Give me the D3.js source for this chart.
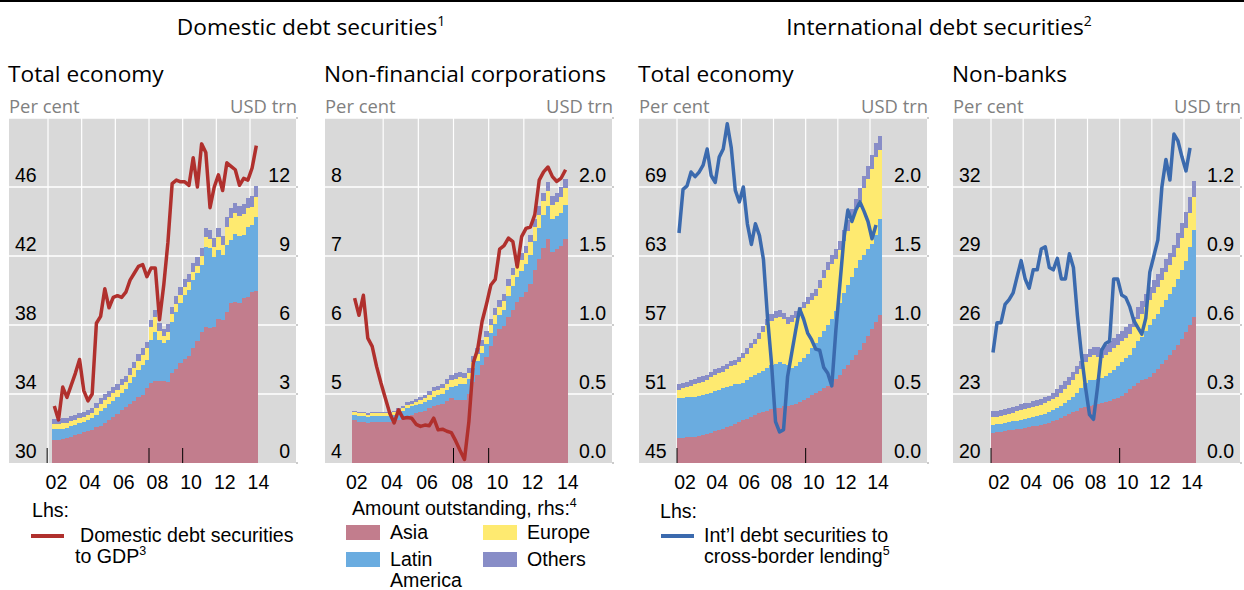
<!DOCTYPE html>
<html>
<head>
<meta charset="utf-8">
<script src="https://cdn.jsdelivr.net/npm/d3@7"></script>
<style>
  body { margin: 0; background: #fff; }
  svg text { font-family: "Liberation Sans", Arial, sans-serif; fill: #000; }
  svg text.ttl { font-family: "Open Sans", sans-serif; }
  svg text.unit { font-family: "Open Sans", sans-serif; fill: #808080; }
</style>
</head>
<body>
<script>
// ---- data (quarterly) ----
const yearTicks = [2002, 2004, 2006, 2008, 2010, 2012, 2014];
const yearLabels = ["02", "04", "06", "08", "10", "12", "14"];

// Domestic debt securities, total economy (from 2002 Q2)
const domTotalRatio = [33.3,32.5,34.4,33.8,34.5,35.2,36.0,34.2,33.6,34.0, 38.1,38.5,40.1,39.0,39.6,39.7,39.6,39.9,40.6,41.0,
  41.4,41.5,40.8,41.3,41.3,38.3,40.3,42.8,46.2,46.4, 46.3,46.3,46.1,47.7,46.0,48.5,48.0,44.8,46.0,46.7,
  45.8,47.4,47.2,47.0,46.1,46.5,46.4,47.1,48.4];
const domTotalAsia = [1.0,1.02,1.04,1.07,1.15,1.22,1.28,1.33,1.40,1.45, 1.58,1.62,1.75,1.85,1.98,2.15,2.3,2.42,2.55,2.7,
  2.85,2.95,3.25,3.5,3.55,3.58,3.58,3.54,3.9,4.08, 4.34,4.52,4.65,5.0,5.3,5.71,5.93,5.86,5.9,6.26,
  6.2,6.58,6.96,7.0,6.97,7.17,7.23,7.45,7.48];
const domTotalLatam = [0.46,0.46,0.46,0.46,0.45,0.44,0.44,0.45,0.45,0.50, 0.52,0.63,0.65,0.70,0.72,0.70,0.75,0.78,0.95,1.05,
  1.20,1.30,1.25,1.85,2.16,1.77,1.62,1.81,2.24,2.50, 2.60,2.78,2.87,2.96,2.96,2.89,3.45,3.47,3.07,3.00,
  2.84,2.90,2.74,2.96,2.90,2.74,3.02,2.90,3.20];
const domTotalEurope = [0.22,0.22,0.22,0.22,0.22,0.22,0.22,0.22,0.22,0.24, 0.28,0.32,0.33,0.33,0.33,0.33,0.32,0.32,0.34,0.36,
  0.40,0.44,0.48,0.55,0.62,0.40,0.32,0.36,0.32,0.32, 0.36,0.37,0.36,0.36,0.32,0.38,0.45,0.40,0.44,0.55,
  0.45,0.78,0.95,0.90,0.87,0.90,0.82,0.80,0.90];
const domTotalOthers = [0.22,0.22,0.22,0.22,0.22,0.22,0.22,0.22,0.22,0.22, 0.24,0.25,0.25,0.26,0.26,0.27,0.27,0.28,0.28,0.29,
  0.29,0.30,0.30,0.32,0.32,0.32,0.32,0.33,0.33,0.34, 0.34,0.35,0.35,0.36,0.36,0.37,0.38,0.38,0.39,0.40,
  0.40,0.42,0.42,0.43,0.44,0.44,0.45,0.46,0.46];

// Domestic debt securities, non-financial corporations (from 2002 Q2)
const domNfcRatio = [6.39,6.14,6.43,5.81,5.69,5.40,5.16,4.94,4.72,4.58, 4.77,4.65,4.66,4.65,4.56,4.53,4.55,4.54,4.65,4.48,
  4.49,4.46,4.44,4.32,4.18,4.05,4.60,5.45,5.65,6.05, 6.30,6.58,6.66,7.10,7.15,7.26,7.21,6.84,7.28,7.40,
  7.42,7.60,8.10,8.22,8.29,8.15,8.08,8.13,8.25];
const domNfcAsia = [0.31,0.30,0.30,0.29,0.30,0.30,0.30,0.30,0.30,0.30, 0.31,0.32,0.34,0.35,0.36,0.37,0.38,0.40,0.41,0.42,
  0.43,0.45,0.47,0.46,0.46,0.46,0.50,0.59,0.64,0.71, 0.77,0.85,0.92,0.97,0.99,1.06,1.11,1.17,1.20,1.24,
  1.30,1.40,1.48,1.56,1.62,1.53,1.55,1.57,1.62];
const domNfcLatam = [0.04,0.04,0.04,0.04,0.04,0.04,0.04,0.04,0.04,0.05, 0.05,0.06,0.06,0.06,0.06,0.06,0.06,0.06,0.07,0.07,
  0.07,0.08,0.08,0.10,0.11,0.11,0.11,0.10,0.10,0.09, 0.09,0.09,0.09,0.10,0.12,0.15,0.17,0.18,0.19,0.20,
  0.21,0.21,0.22,0.24,0.24,0.24,0.24,0.24,0.25];
const domNfcEurope = [0.02,0.02,0.02,0.02,0.02,0.02,0.02,0.02,0.02,0.02, 0.02,0.02,0.02,0.02,0.025,0.03,0.03,0.035,0.04,0.04,
  0.04,0.045,0.05,0.05,0.05,0.045,0.04,0.045,0.05,0.05, 0.055,0.06,0.06,0.06,0.065,0.07,0.08,0.08,0.08,0.08,
  0.09,0.10,0.10,0.10,0.11,0.10,0.10,0.12,0.12];
const domNfcOthers = [0.01,0.01,0.01,0.01,0.01,0.01,0.01,0.01,0.01,0.01, 0.015,0.015,0.02,0.02,0.02,0.02,0.02,0.025,0.03,0.03,
  0.03,0.035,0.04,0.04,0.04,0.04,0.04,0.04,0.04,0.04, 0.045,0.045,0.05,0.05,0.05,0.05,0.05,0.05,0.05,0.055,
  0.055,0.06,0.06,0.06,0.065,0.065,0.065,0.07,0.07];

// International debt securities, total economy (from 2002 Q1)
const intTotalRatio = [65.0,68.8,69.1,70.3,69.9,70.3,70.9,72.3,70.0,69.4, 71.6,72.3,74.5,72.4,68.7,67.7,69.0,65.8,64.0,65.8,
  64.8,62.7,57.7,53.7,48.6,47.7,47.9,52.5,54.5,56.5, 58.4,57.5,56.3,55.7,54.9,54.8,53.3,52.8,51.7,56.5,
  60.5,64.5,67.0,66.0,67.0,67.7,66.9,66.0,64.5,65.7];
const intTotalAsia = [0.18,0.18,0.185,0.19,0.19,0.195,0.20,0.21,0.22,0.23, 0.24,0.25,0.26,0.27,0.28,0.30,0.31,0.32,0.33,0.35,
  0.36,0.37,0.38,0.39,0.40,0.40,0.41,0.41,0.42,0.43, 0.44,0.46,0.47,0.49,0.51,0.52,0.54,0.56,0.58,0.61,
  0.64,0.68,0.71,0.75,0.78,0.82,0.87,0.92,0.97,1.02, 1.07];
const intTotalLatam = [0.29,0.29,0.29,0.29,0.29,0.29,0.29,0.29,0.29,0.29, 0.29,0.29,0.29,0.29,0.29,0.275,0.27,0.28,0.29,0.29,
  0.29,0.30,0.31,0.32,0.32,0.33,0.31,0.30,0.27,0.27, 0.29,0.30,0.32,0.34,0.36,0.39,0.42,0.44,0.46,0.49,
  0.52,0.55,0.58,0.60,0.63,0.65,0.64,0.63,0.62,0.63, 0.70];
const intTotalEurope = [0.06,0.07,0.075,0.08,0.09,0.095,0.10,0.10,0.11,0.12, 0.12,0.12,0.13,0.14,0.14,0.155,0.18,0.19,0.21,0.22,
  0.25,0.28,0.31,0.32,0.33,0.33,0.32,0.30,0.33,0.35, 0.35,0.36,0.36,0.35,0.34,0.36,0.38,0.40,0.40,0.38,
  0.38,0.38,0.39,0.41,0.42,0.43,0.48,0.51,0.54,0.57, 0.50];
const intTotalOthers = [0.04,0.04,0.04,0.04,0.04,0.04,0.04,0.04,0.04,0.04, 0.04,0.04,0.04,0.04,0.04,0.04,0.04,0.04,0.04,0.04,
  0.04,0.045,0.045,0.05,0.05,0.05,0.05,0.05,0.05,0.05, 0.05,0.05,0.05,0.05,0.05,0.055,0.06,0.06,0.065,0.07,
  0.07,0.075,0.08,0.08,0.085,0.09,0.09,0.095,0.10,0.10, 0.10];

// International debt securities, non-banks (from 2002 Q1)
const intNonbankRatio = [24.8,26.1,26.1,26.9,27.1,27.4,28.1,28.8,28.0,27.6, 28.4,28.4,29.3,29.4,28.5,28.4,28.9,28.0,28.0,29.1,
  28.5,26.4,24.7,23.3,22.1,21.9,23.3,24.9,25.2,25.3, 28.0,28.0,27.3,27.2,26.8,26.2,25.9,25.6,26.3,28.3,
  29.0,29.7,32.0,33.2,32.3,34.3,34.0,33.3,32.7,33.7];
const intNonbankAsia = [0.13,0.133,0.136,0.139,0.142,0.145,0.148,0.15,0.153,0.156, 0.159,0.162,0.165,0.17,0.176,0.181,0.187,0.195,0.203,0.211,
  0.22,0.228,0.237,0.245,0.25,0.253,0.257,0.26,0.265,0.27, 0.277,0.284,0.29,0.305,0.32,0.335,0.35,0.36,0.366,0.373,
  0.39,0.41,0.43,0.45,0.47,0.49,0.515,0.54,0.57,0.60, 0.636];
const intNonbankLatam = [0.035,0.035,0.035,0.035,0.035,0.036,0.036,0.037,0.038,0.039, 0.041,0.042,0.044,0.045,0.046,0.049,0.051,0.055,0.059,0.064,
  0.068,0.077,0.088,0.105,0.11,0.109,0.108,0.108,0.115,0.12, 0.128,0.136,0.15,0.15,0.15,0.165,0.18,0.19,0.209,0.227,
  0.235,0.24,0.25,0.26,0.265,0.275,0.285,0.30,0.31,0.34, 0.377];
const intNonbankEurope = [0.034,0.034,0.035,0.036,0.037,0.038,0.04,0.043,0.043,0.043, 0.043,0.044,0.043,0.045,0.046,0.048,0.05,0.055,0.06,0.065,
  0.072,0.08,0.085,0.09,0.10,0.108,0.095,0.087,0.09,0.094, 0.095,0.095,0.09,0.09,0.09,0.09,0.095,0.10,0.105,0.11,
  0.115,0.115,0.115,0.12,0.125,0.13,0.135,0.14,0.14,0.145, 0.145];
const intNonbankOthers = [0.025,0.025,0.025,0.025,0.025,0.025,0.025,0.025,0.025,0.025, 0.025,0.025,0.025,0.025,0.025,0.025,0.035,0.035,0.035,0.035,
  0.035,0.035,0.035,0.035,0.035,0.035,0.045,0.045,0.045,0.045, 0.045,0.045,0.045,0.045,0.045,0.045,0.055,0.055,0.055,0.055,
  0.055,0.055,0.055,0.055,0.055,0.055,0.065,0.065,0.07,0.07, 0.07];

// ---- drawing ----
const W = 1244, H = 590;
const plotTop = 118, plotBottom = 463;
const red = "#b0302d", blue = "#3b6aae";
const keys = ["asia", "latam", "europe", "others"];
const colors = { asia: "#c27d8d", latam: "#6aace0", europe: "#feea70", others: "#888dc7" };

const svg = d3.select("body").append("svg")
  .attr("width", W).attr("height", H);

svg.append("rect").attr("x", 0).attr("y", 0).attr("width", W).attr("height", 2).attr("fill", "#000");

const groupTitles = [
  { text: "Domestic debt securities", sup: "1", cx: 311 },
  { text: "International debt securities", sup: "2", cx: 939 }
];
groupTitles.forEach(function(t) {
  const el = svg.append("text").attr("class", "ttl")
    .attr("x", t.cx).attr("y", 35).attr("text-anchor", "middle")
    .style("font-size", "22.7px").text(t.text);
  el.append("tspan").attr("dy", -9).style("font-size", "14px").text(t.sup);
});

const panels = [
  { title: "Total economy", left: 9, right: 296, x02: 48, x14: 250, start: 2002.25,
    lhs: [30, 50], lhsTicks: [30, 34, 38, 42, 46], rhs: [0, 15], rhsTicks: [0, 3, 6, 9, 12], rhsFmt: d3.format("d"),
    ratio: domTotalRatio, lineColor: red,
    bars: [domTotalAsia, domTotalLatam, domTotalEurope, domTotalOthers],
    gridYears: yearTicks, markYears: [2001.95, 2008, 2010] },
  { title: "Non-financial corporations", left: 325, right: 612, x02: 348, x14: 559, start: 2002.25,
    lhs: [4, 9], lhsTicks: [4, 5, 6, 7, 8], rhs: [0, 2.5], rhsTicks: [0, 0.5, 1, 1.5, 2], rhsFmt: d3.format(".1f"),
    ratio: domNfcRatio, lineColor: red,
    bars: [domNfcAsia, domNfcLatam, domNfcEurope, domNfcOthers],
    gridYears: yearTicks.slice(1), markYears: [2008, 2010] },
  { title: "Total economy", left: 639, right: 927, x02: 677, x14: 870, start: 2002,
    lhs: [45, 75], lhsTicks: [45, 51, 57, 63, 69], rhs: [0, 2.5], rhsTicks: [0, 0.5, 1, 1.5, 2], rhsFmt: d3.format(".1f"),
    ratio: intTotalRatio, lineColor: blue,
    bars: [intTotalAsia, intTotalLatam, intTotalEurope, intTotalOthers],
    gridYears: yearTicks, markYears: [2002, 2010] },
  { title: "Non-banks", left: 953, right: 1240, x02: 991, x14: 1184, start: 2002,
    lhs: [20, 35], lhsTicks: [20, 23, 26, 29, 32], rhs: [0, 1.5], rhsTicks: [0, 0.3, 0.6, 0.9, 1.2], rhsFmt: d3.format(".1f"),
    ratio: intNonbankRatio, lineColor: blue,
    bars: [intNonbankAsia, intNonbankLatam, intNonbankEurope, intNonbankOthers],
    gridYears: yearTicks, markYears: [2002, 2010] }
];

const drawPanel = function(p) {
  const g = svg.append("g");
  const x = d3.scaleLinear().domain([2002, 2014]).range([p.x02, p.x14]);
  const yL = d3.scaleLinear().domain(p.lhs).range([plotBottom, plotTop]);
  const yR = d3.scaleLinear().domain(p.rhs).range([plotBottom, plotTop]);

  g.append("text").attr("class", "ttl").attr("x", p.left - 1).attr("y", 82)
    .style("font-size", "22.7px").text(p.title);
  g.append("text").attr("class", "unit").attr("x", p.left).attr("y", 113)
    .style("font-size", "18.4px").text("Per cent");
  g.append("text").attr("class", "unit").attr("x", p.right + 1).attr("y", 113)
    .attr("text-anchor", "end").style("font-size", "18.4px").text("USD trn");

  g.append("rect").attr("x", p.left).attr("y", plotTop)
    .attr("width", p.right - p.left).attr("height", plotBottom - plotTop).attr("fill", "#d9d9d9");

  // grid
  g.selectAll("line.hg").data(p.lhsTicks.slice(1).concat([p.lhs[1]])).join("line")
    .attr("x1", p.left).attr("x2", p.right)
    .attr("y1", d => yL(d)).attr("y2", d => yL(d))
    .attr("stroke", "#fff").attr("stroke-width", 1.5);
  g.selectAll("line.vg").data(p.gridYears).join("line")
    .attr("x1", d => x(d)).attr("x2", d => x(d))
    .attr("y1", plotTop).attr("y2", plotBottom)
    .attr("stroke", "#fff").attr("stroke-width", 1.2);

  // small ticks just outside the right edge
  g.selectAll("line.rt").data(p.rhsTicks.concat([p.rhs[1]])).join("line")
    .attr("x1", p.right).attr("x2", p.right + 2)
    .attr("y1", d => yR(d)).attr("y2", d => yR(d))
    .attr("stroke", "#999").attr("stroke-width", 1);

  // stacked bars (rhs)
  const rows = p.bars[0].map(function(v, i) {
    const r = { t: p.start + i * 0.25 };
    keys.forEach(function(k, j) { r[k] = p.bars[j][i]; });
    return r;
  });
  const series = d3.stack().keys(keys)(rows);
  const bw = x(2002.25) - x(2002);
  g.append("g").attr("shape-rendering", "crispEdges")
    .selectAll("g").data(series).join("g").attr("fill", d => colors[d.key])
    .selectAll("rect").data(d => d).join("rect")
    .attr("x", d => x(d.data.t))
    .attr("width", bw)
    .attr("y", d => yR(d[1]))
    .attr("height", d => yR(d[0]) - yR(d[1]));

  g.selectAll("line.mk").data(p.markYears).join("line")
    .attr("x1", d => x(d)).attr("x2", d => x(d))
    .attr("y1", plotBottom - 15).attr("y2", plotBottom)
    .attr("stroke", "#000").attr("stroke-width", 1);

  // ratio line (lhs)
  const line = d3.line()
    .x((d, i) => x(p.start + i * 0.25 + 0.125))
    .y(d => yL(d));
  g.append("path").datum(p.ratio)
    .attr("d", line).attr("fill", "none")
    .attr("stroke", p.lineColor).attr("stroke-width", 3.5)
    .attr("stroke-linejoin", "round");

  // tick labels
  g.selectAll("text.yl").data(p.lhsTicks).join("text")
    .attr("x", p.left + 6).attr("y", d => yL(d) - 5)
    .style("font-size", "19.5px").text(d => d);
  g.selectAll("text.yr").data(p.rhsTicks).join("text")
    .attr("x", p.right - 6).attr("y", d => yR(d) - 5)
    .attr("text-anchor", "end").style("font-size", "19.5px").text(d => p.rhsFmt(d));
  g.selectAll("text.xl").data(yearTicks).join("text")
    .attr("x", d => x(d + 0.5)).attr("y", 489)
    .attr("text-anchor", "middle").style("font-size", "19.5px")
    .text((d, i) => yearLabels[i]);
};

panels.forEach(drawPanel);

// legends
const lg = svg.append("g").style("font-size", "19.6px");
lg.append("text").attr("x", 32).attr("y", 517).text("Lhs:");
lg.append("line").attr("x1", 31).attr("x2", 64).attr("y1", 536).attr("y2", 536)
  .attr("stroke", red).attr("stroke-width", 4);
lg.append("text").attr("x", 80).attr("y", 542).text("Domestic debt securities");
lg.append("text").attr("x", 75).attr("y", 563).text("to GDP")
  .append("tspan").attr("dy", -8).style("font-size", "12.5px").text("3");

lg.append("text").attr("x", 352).attr("y", 515).text("Amount outstanding, rhs:")
  .append("tspan").attr("dy", -8).style("font-size", "12.5px").text("4");
const swatches = [
  { key: "asia", x: 346, y: 525, label: ["Asia"] },
  { key: "europe", x: 483, y: 525, label: ["Europe"] },
  { key: "latam", x: 346, y: 552, label: ["Latin", "America"] },
  { key: "others", x: 483, y: 552, label: ["Others"] }
];
swatches.forEach(function(s) {
  lg.append("rect").attr("x", s.x).attr("y", s.y).attr("width", 34).attr("height", 15).attr("fill", colors[s.key]);
  s.label.forEach(function(l, i) {
    lg.append("text").attr("x", s.x + 44).attr("y", s.y + 14 + i * 21).text(l);
  });
});

lg.append("text").attr("x", 660).attr("y", 518).text("Lhs:");
lg.append("line").attr("x1", 661).attr("x2", 694).attr("y1", 536).attr("y2", 536)
  .attr("stroke", blue).attr("stroke-width", 4);
lg.append("text").attr("x", 704).attr("y", 542).text("Int\u2019l debt securities to");
lg.append("text").attr("x", 704).attr("y", 563).text("cross-border lending")
  .append("tspan").attr("dy", -8).style("font-size", "12.5px").text("5");
</script>
</body>
</html>
